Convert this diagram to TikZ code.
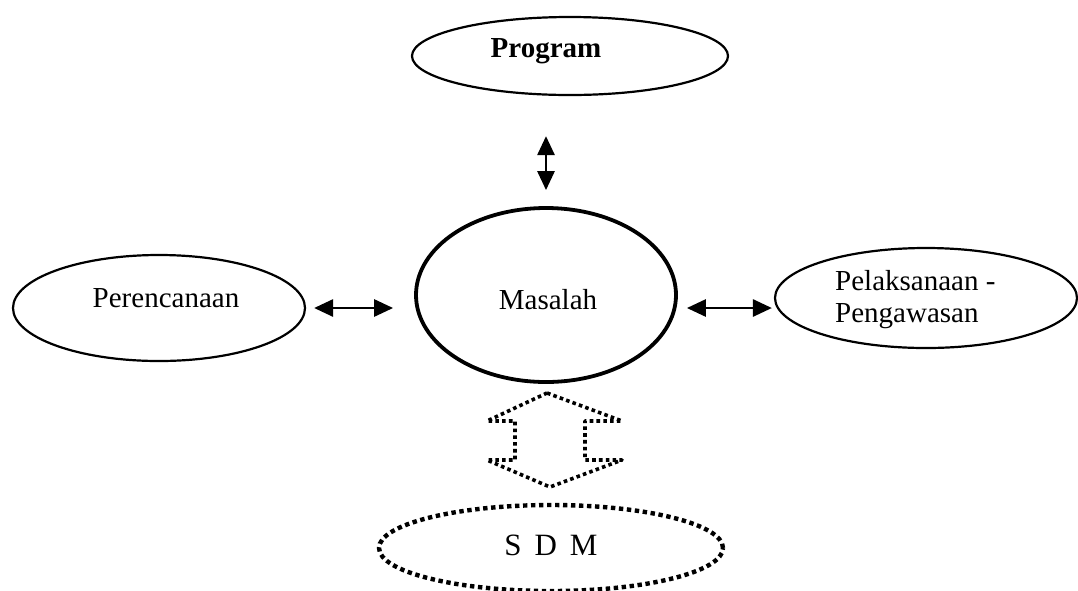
\documentclass[tikz,border=0pt]{standalone}
\usepackage{fontspec}
\setmainfont{Liberation Serif}
\usetikzlibrary{shapes.geometric,arrows.meta}
\begin{document}
\begin{tikzpicture}[x=1pt,y=-1pt,
  oval/.style={ellipse,draw,line width=2.2pt,inner sep=0pt},
  lbl/.style={font=\fontsize{29}{32}\selectfont,inner sep=0pt},
  dbl/.style={line width=2.8pt,{Triangle[length=19pt,width=17pt]}-{Triangle[length=19pt,width=17pt]}},
  dots/.style={line width=4.4pt,dash pattern=on 4.4pt off 3.6pt}
]
\useasboundingbox (0,0) rectangle (1078,590);
\node[oval,minimum width=316pt,minimum height=78pt] (prog) at (570,56) {};
\node[lbl,font=\fontsize{29}{32}\selectfont\bfseries] (progt) at (546,51) {Program};
\node[oval,line width=3.8pt,minimum width=260pt,minimum height=174pt] (mas) at (546,295) {};
\node[lbl] (mast) at (548,300) {Masalah};
\node[oval,minimum width=292pt,minimum height=106pt] (per) at (159,308) {};
\node[lbl] (pert) at (166,298) {Perencanaan};
\node[oval,minimum width=302pt,minimum height=100pt] (pel) at (926,298) {};
\node[lbl,align=left,anchor=north west,font=\fontsize{29}{32}\selectfont] (pelt) at (835,270) {Pelaksanaan -\\Pengawasan};
\node[ellipse,draw,dots,inner sep=0pt,minimum width=344pt,minimum height=86pt] (sdm) at (551,548) {};
\node[lbl,font=\fontsize{31}{34}\selectfont] (sdmt) at (551,545) {S\,\ D\,\ M};
% connectors
\draw[dbl,shorten <=40pt,shorten >=16pt] (mas.north |- prog.south) -- (mas.north);
\draw[dbl,shorten <=8pt,shorten >=21pt] (per.east) -- (per.east -| mas.west);
\draw[dbl,shorten <=9pt,shorten >=2pt] (mas.east |- per.east) -- (pel.west |- per.east);
% dotted double block arrow
\draw[line width=3.6pt,dash pattern=on 3.6pt off 3.2pt,line join=round]
  (547,393) -- (622,421) -- (585,421) -- (585,460) -- (622,460) -- (550,487)
  -- (487,460) -- (515,460) -- (515,421) -- (487,421) -- cycle;
\end{tikzpicture}
\end{document}
